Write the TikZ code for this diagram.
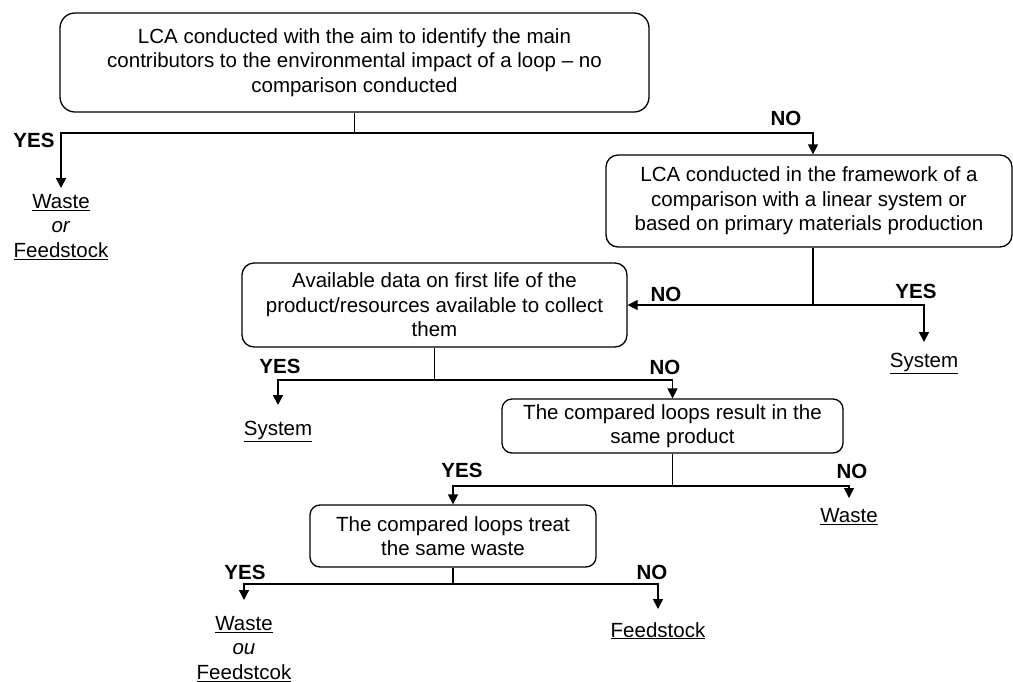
\documentclass[tikz,border=0pt]{standalone}
\usepackage{fontspec}
\setmainfont{Liberation Sans}
\usetikzlibrary{arrows.meta}
\begin{document}
\begin{tikzpicture}[x=1pt,y=-1pt,
  font=\fontsize{20.5}{24.5}\selectfont,
  box/.style={draw, line width=1.3pt, rounded corners=12pt, inner sep=0pt, align=center},
  conn/.style={line width=1.5pt},
  arr/.style={conn, -{Triangle[width=10pt,length=10pt]}},
  lab/.style={font=\fontsize{20.5}{24.5}\selectfont\bfseries, inner sep=0pt},
  outcome/.style={align=center, inner sep=0pt, anchor=north}]

\useasboundingbox (0,0) rectangle (1013,681);
\fill[white] (0,0) rectangle (1013,681);

% decision boxes
\node[box, rounded corners=15pt, minimum width=589pt, minimum height=99pt] (b1) at (354.5,62.5)
  {LCA conducted with the aim to identify the main\\contributors to the environmental impact of a loop – no\\comparison conducted};
\node[box, minimum width=406pt, minimum height=92pt] (b2) at (809,201)
  {LCA conducted in the framework of a\\comparison with a linear system or\\based on primary materials production};
\node[box, minimum width=385pt, minimum height=84pt] (b3) at (434.5,305)
  {Available data on first life of the\\product/resources available to collect\\them};
\node[box, rounded corners=10pt, minimum width=341pt, minimum height=54pt] (b4) at (672.5,426)
  {The compared loops result in the\\same product};
\node[box, rounded corners=10pt, minimum width=286pt, minimum height=62pt] (b5) at (453,536)
  {The compared loops treat\\the same waste};

% outcomes
\node[outcome] (o1) at (61,194) {\underline{Waste}\\\textit{or}\\\underline{Feedstock}};
\node[outcome] (sysR) at (924,353) {\underline{System}};
\node[outcome] (sysL) at (278,421) {\underline{System}};
\node[outcome] (wasteR) at (849,508) {\underline{Waste}};
\node[outcome] (o5) at (244,616) {\underline{Waste}\\\textit{ou}\\\underline{Feedstcok}};
\node[outcome] (feedR) at (658,622) {\underline{Feedstock}};

% branch labels
\node[lab] (y1) at (34,140) {YES};
\node[lab] (n1) at (786,118) {NO};
\node[lab] (n2) at (666,294) {NO};
\node[lab] (y2) at (916,291) {YES};
\node[lab] (y3) at (280,366) {YES};
\node[lab] (n3) at (665,367) {NO};
\node[lab] (y4) at (462,470) {YES};
\node[lab] (n4) at (852,471) {NO};
\node[lab] (y5) at (245,572) {YES};
\node[lab] (n5) at (652,572) {NO};

% junction points below each box
\coordinate (j1) at (b1.south |- 0,133);
\coordinate (j2) at (813,305);
\coordinate (j3) at (b3.south |- 0,380);
\coordinate (j4) at (b4.south |- 0,486);
\coordinate (j5) at (b5.south |- 0,584);

% connectors
\draw[conn] (b1.south) -- (j1);
\draw[arr, shorten >=6pt] (j1) -| (o1.north);
\draw[arr] (j1) -| ([xshift=4pt]b2.north);

\draw[conn] ([xshift=4pt]b2.south) -- (j2);
\draw[arr] (j2) -- (b3.east);
\draw[arr, shorten >=11pt] (j2) -| (sysR.north);

\draw[conn] (b3.south) -- (j3);
\draw[arr, shorten >=16pt] (j3) -| (sysL.north);
\draw[arr] (j3) -| (b4.north);

\draw[conn] (b4.south) -- (j4);
\draw[arr] (j4) -| (b5.north);
\draw[arr, shorten >=10pt] (j4) -| (wasteR.north);

\draw[conn] (b5.south) -- (j5);
\draw[arr, shorten >=16pt] (j5) -| (o5.north);
\draw[arr, shorten >=13pt] (j5) -| (feedR.north);
\end{tikzpicture}
\end{document}
